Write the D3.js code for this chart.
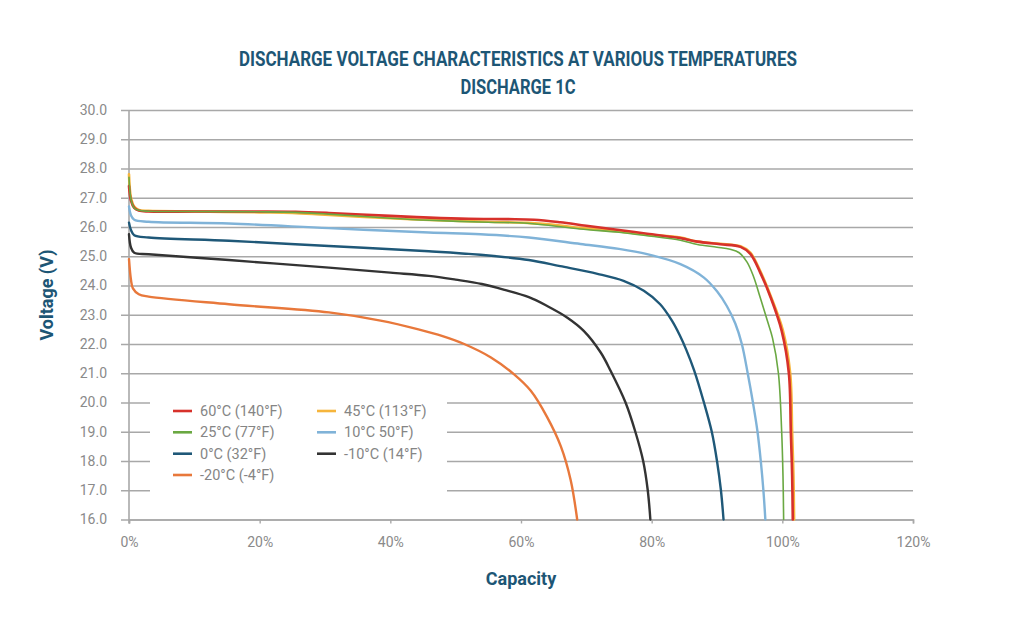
<!DOCTYPE html>
<html>
<head>
<meta charset="utf-8">
<script src="https://cdn.jsdelivr.net/npm/d3@7"></script>
<style>
  html, body { margin: 0; padding: 0; background: #ffffff; }
  svg { display: block; }
  text { font-family: Roboto, "Noto Sans", sans-serif; }
</style>
</head>
<body>
<svg id="chart" width="1024" height="623"></svg>
<script>
// ---------- data ----------
const titleLines = ["DISCHARGE VOLTAGE CHARACTERISTICS AT VARIOUS TEMPERATURES", "DISCHARGE 1C"];
const yAxisTitle = "Voltage (V)";
const xAxisTitle = "Capacity";
const yTicks = [16,17,18,19,20,21,22,23,24,25,26,27,28,29,30];
const xTicks = [0,20,40,60,80,100,120];

const seriesNames = ["60°C (140°F)", "45°C (113°F)", "25°C (77°F)", "10°C 50°F)", "0°C (32°F)", "-10°C (14°F)", "-20°C (-4°F)"];
const seriesColors = ["#d7312b", "#f6b53c", "#6aa842", "#80b3d8", "#1f5878", "#333333", "#e8783b"];

// [capacity %, voltage V]
const s60 = [[0,27.4],[0.3,26.9],[0.8,26.65],[1.5,26.56],[3,26.53],[10,26.53],[20,26.53],[25.5,26.52],[30.6,26.48],[40,26.38],[46,26.32],[52,26.28],[58,26.27],[62,26.25],[66,26.16],[70,26.04],[75,25.9],[79.3,25.77],[84.4,25.62],[87,25.5],[90.5,25.41],[93.6,25.32],[95.1,25.08],[96.6,24.45],[98.2,23.6],[99.9,22.45],[101,21.0],[101.3,19.0],[101.5,17.5],[101.6,16.0]];
const s45 = [[0,27.8],[0.3,27.0],[0.8,26.7],[1.5,26.58],[3,26.55],[10,26.53],[20,26.5],[25,26.48],[30,26.42],[40,26.3],[46,26.24],[55,26.18],[61,26.14],[66,26.05],[69,25.97],[75,25.85],[79.3,25.74],[84.4,25.64],[87,25.5],[90.5,25.43],[93.6,25.34],[95.1,25.12],[96.6,24.5],[98.2,23.65],[100.1,22.45],[101.2,21.0],[101.5,19.0],[101.7,17.5],[101.8,16.0]];
const s25 = [[0,27.7],[0.3,26.95],[0.8,26.65],[1.5,26.57],[3,26.54],[10,26.53],[20,26.52],[25.5,26.5],[30.6,26.44],[40,26.3],[46,26.23],[55,26.16],[61,26.13],[69,25.93],[75,25.82],[79.3,25.7],[84.4,25.55],[87,25.4],[90,25.31],[92,25.24],[93.4,25.12],[94.6,24.8],[95.6,24.3],[96.6,23.6],[97.7,22.8],[98.5,22.2],[99.4,21.0],[99.9,19.0],[100.1,17.5],[100.2,16.0]];
const s10 = [[0,26.7],[0.3,26.4],[0.8,26.25],[3,26.18],[15.3,26.12],[30.6,25.96],[45.9,25.81],[53.8,25.75],[61.2,25.64],[69.1,25.42],[75,25.25],[79.3,25.07],[84.4,24.73],[88,24.27],[90,23.8],[91.5,23.3],[92.8,22.7],[93.8,22.0],[94.7,21.0],[95.5,20.0],[96.2,19.0],[96.7,18.0],[97.1,17.0],[97.4,16.0]];
const s0 = [[0,26.15],[0.3,25.9],[0.8,25.72],[3,25.64],[15.3,25.53],[30.6,25.35],[45.9,25.17],[53.8,25.05],[61.2,24.87],[66,24.66],[71.7,24.4],[75.7,24.16],[78.8,23.82],[81.3,23.36],[83.1,22.8],[84.3,22.3],[85.3,21.8],[86.5,21.1],[88,20.0],[89.2,19.0],[90,18.0],[90.6,17.0],[91,16.0]];
const sm10 = [[0,25.75],[0.3,25.3],[0.8,25.12],[3,25.07],[15.3,24.87],[30.6,24.61],[40,24.44],[45.9,24.33],[50,24.2],[54,24.05],[57.5,23.85],[61.2,23.6],[64,23.3],[67.1,22.9],[69.6,22.45],[72.2,21.71],[73.7,21.09],[76,20.0],[77.5,19.0],[78.7,18.0],[79.4,17.0],[79.8,16.0]];
const sm20 = [[0,24.9],[0.3,24.2],[0.6,23.9],[1.5,23.7],[3,23.62],[15.3,23.36],[30.6,23.08],[38.5,22.8],[44.3,22.5],[48,22.27],[51.3,22.0],[55.4,21.54],[58.9,20.97],[61.5,20.4],[64,19.5],[66.1,18.5],[67.6,17.35],[68.6,16.0]];

const seriesData = [s60, s45, s25, s10, s0, sm10, sm20];
const seriesWidths = [2.6, 2.6, 1.6, 2.4, 2.4, 2.4, 2.4];
const drawOrder = [1, 0, 2, 3, 4, 5, 6];

// ---------- chart ----------
const svg = d3.select("#chart");
const x = d3.scaleLinear().domain([0, 120]).range([129, 913]);
const y = d3.scaleLinear().domain([16, 30]).range([519.5, 110]);
const gridLeft = 121;
const gridColor = "#a8a8a8";
const tickTextColor = "#8a8a8a";
const teal = "#1d5675";

// gridlines + y labels
const yAxis = d3.axisLeft(y).tickValues(yTicks).tickFormat(d3.format(".1f"))
  .tickSize(-(x.range()[1] - gridLeft)).tickPadding(14);
const gy = svg.append("g").attr("transform", `translate(${gridLeft},0)`).call(yAxis);
gy.select(".domain").remove();
gy.selectAll(".tick line").attr("stroke", gridColor).attr("stroke-width", 1.4);
gy.selectAll(".tick text").attr("fill", tickTextColor).attr("font-size", 14);

// legend background (covers gridlines)
svg.append("rect").attr("x", 150).attr("y", 392).attr("width", 297).attr("height", 113).attr("fill", "#ffffff");

// x axis
const xAxis = d3.axisBottom(x).tickValues(xTicks).tickFormat(d => d + "%").tickSize(4).tickSizeOuter(4).tickPadding(14);
const gx = svg.append("g").attr("transform", `translate(0,${y(16)})`).call(xAxis);
gx.select(".domain").attr("stroke", gridColor).attr("stroke-width", 1.6);
gx.selectAll(".tick line").attr("stroke", gridColor).attr("stroke-width", 1.4);
gx.selectAll(".tick text").attr("fill", tickTextColor).attr("font-size", 14);

// y axis line
svg.append("line").attr("x1", x(0)).attr("x2", x(0)).attr("y1", y(30)).attr("y2", y(16) + 4)
  .attr("stroke", gridColor).attr("stroke-width", 1.6);

// series lines
const line = d3.line().x(d => x(d[0])).y(d => y(d[1])).curve(d3.curveCatmullRom.alpha(0.5));
drawOrder.forEach(i => {
  svg.append("path").datum(seriesData[i]).attr("d", line)
    .attr("fill", "none").attr("stroke", seriesColors[i])
    .attr("stroke-width", seriesWidths[i]).attr("stroke-linejoin", "round").attr("stroke-linecap", "round");
});

// legend
const legendCols = [173, 317];
const legendRows = [411, 432.3, 453.7, 475];
seriesNames.forEach((name, i) => {
  const cx = legendCols[i % 2], cy = legendRows[Math.floor(i / 2)];
  svg.append("line").attr("x1", cx).attr("x2", cx + 19).attr("y1", cy).attr("y2", cy)
    .attr("stroke", seriesColors[i]).attr("stroke-width", 2.6);
  svg.append("text").attr("x", cx + 27).attr("y", cy + 5).attr("font-size", 14.5)
    .attr("fill", "#858585").text(name);
});

// titles
svg.append("text").attr("x", 518).attr("y", 66).attr("text-anchor", "middle")
  .attr("font-size", 20).attr("font-weight", 700).attr("fill", teal)
  .attr("textLength", 558).attr("lengthAdjust", "spacingAndGlyphs").text(titleLines[0]);
svg.append("text").attr("x", 518).attr("y", 94).attr("text-anchor", "middle")
  .attr("font-size", 20).attr("font-weight", 700).attr("fill", teal)
  .attr("textLength", 115).attr("lengthAdjust", "spacingAndGlyphs").text(titleLines[1]);

svg.append("text").attr("transform", "translate(53,295) rotate(-90)").attr("text-anchor", "middle")
  .attr("font-size", 18).attr("font-weight", 700).attr("fill", teal).text(yAxisTitle);
svg.append("text").attr("x", 521).attr("y", 585).attr("text-anchor", "middle")
  .attr("font-size", 18).attr("font-weight", 700).attr("fill", teal).text(xAxisTitle);
</script>
</body>
</html>
